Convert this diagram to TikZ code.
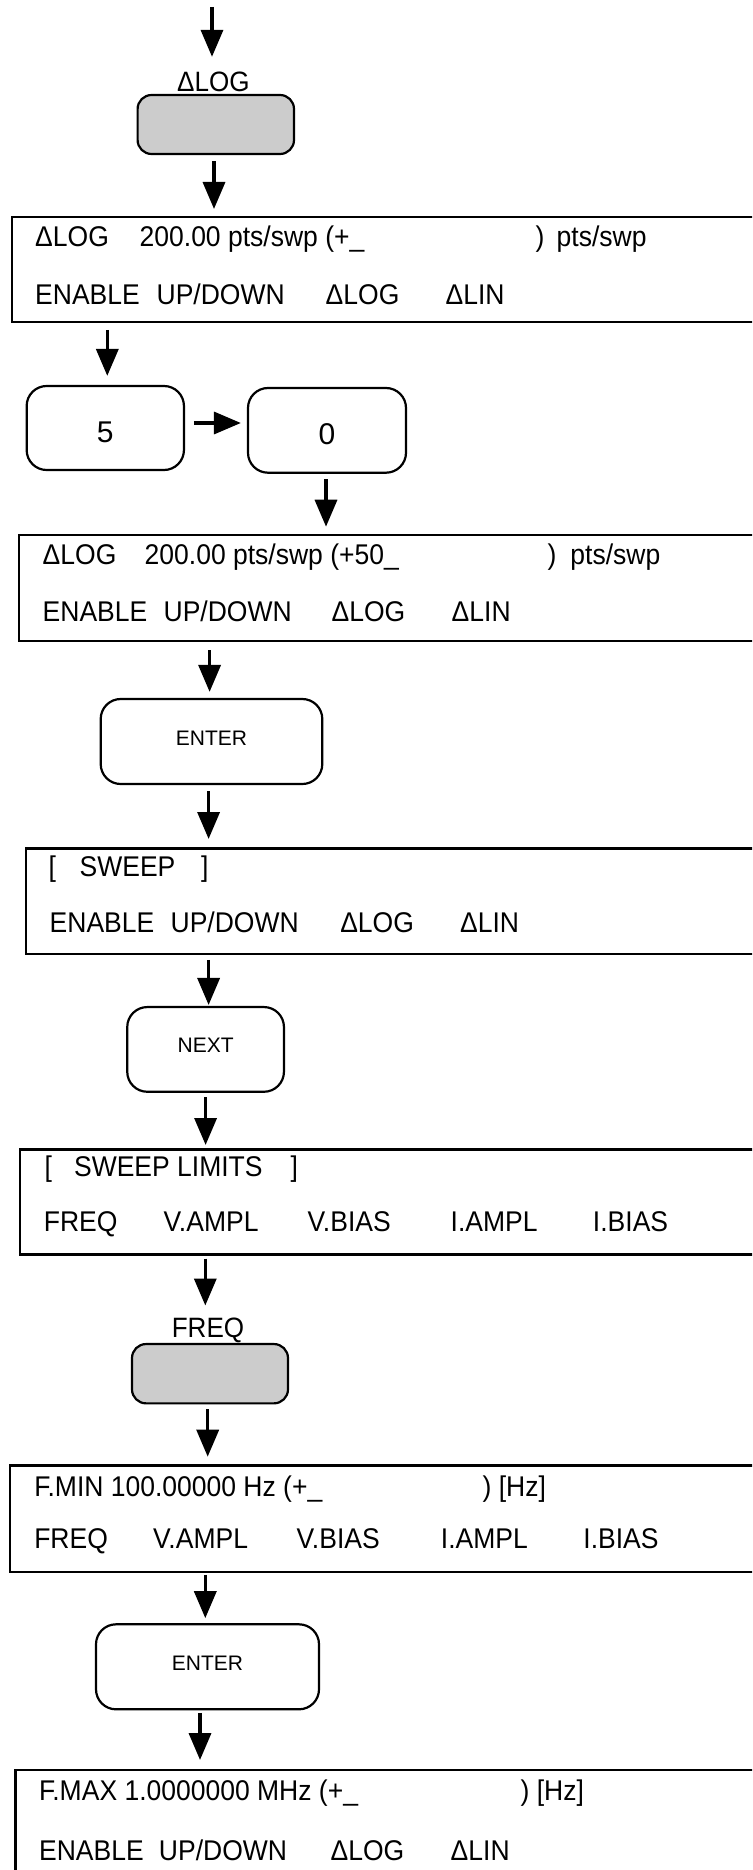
\documentclass[tikz,border=0pt]{standalone}
\usepackage{fontspec}
\setmainfont{Liberation Sans}
\newfontfamily\dispfont[FakeStretch=0.93]{Liberation Sans}
\usetikzlibrary{arrows.meta}
\newcommand{\putat}[2]{\rlap{\hspace*{#1pt}#2}}
\begin{document}
\begin{tikzpicture}[x=1pt,y=-1pt,
  disp/.style={draw, line width=2.2pt, rectangle, anchor=north west, inner sep=0pt, minimum width=820pt},
  btn/.style={draw, line width=2.2pt, rounded corners=20pt, inner sep=0pt, fill=white,
    font=\fontsize{21}{24}\selectfont, text height=15pt, text depth=8pt},
  digit/.style={btn, font=\fontsize{30}{32}\selectfont, text height=29pt, text depth=0pt},
  gbtn/.style={draw, line width=2.2pt, rounded corners=14pt, inner sep=0pt, fill=gray!40},
  lbl/.style={anchor=base, inner sep=0pt, font=\dispfont\fontsize{28}{30}\selectfont, text height=19pt},
  txt/.style={anchor=base west, inner sep=0pt, font=\dispfont\fontsize{28.5}{30}\selectfont},
  arr/.style={line width=3.5pt, -{Triangle[length=27pt,width=22pt]}}
]
\useasboundingbox (0,0) rectangle (752,1870);
\clip (0,0) rectangle (752,1870);

% ---- nodes ----
\coordinate (top) at (212,7);
\node[lbl] (lab1) at (213.4,92) {ΔLOG};
\node[gbtn, minimum width=156.4pt, minimum height=59pt] (g1) at (215.8,124.5) {};

\node[disp, minimum height=104.7pt] (b1) at (10.5,216) {};
\node[txt] (b1l1) at (0,246.7) {\putat{34.5}{ΔLOG}\putat{139}{200.00 pts/swp (+\_}\putat{535}{)}\putat{556}{pts/swp}};
\node[txt] (b1l2) at (0,304) {\putat{34.5}{ENABLE}\putat{156}{UP/DOWN}\putat{325}{ΔLOG}\putat{445}{ΔLIN}};

\node[digit, minimum width=157.3pt, minimum height=84pt] (k5) at (105.3,428) {5};
\node[digit, minimum width=158pt, minimum height=84.7pt] (k0) at (327,430.35) {0};

\node[disp, minimum height=106pt] (b2) at (17.7,534) {};
\node[txt] (b2l1) at (0,564) {\putat{42}{ΔLOG}\putat{144}{200.00 pts/swp (+50\_}\putat{547}{)}\putat{569.8}{pts/swp}};
\node[txt] (b2l2) at (0,621.7) {\putat{42}{ENABLE}\putat{163}{UP/DOWN}\putat{331}{ΔLOG}\putat{451}{ΔLIN}};

\node[btn, minimum width=221.6pt, minimum height=85pt] (e1) at (211.5,741.5) {ENTER};

\node[disp, minimum height=105.4pt] (b3) at (25,847.3) {};
\node[txt] (b3l1) at (0,876.7) {\putat{48}{[}\putat{79}{SWEEP}\putat{200.5}{]}};
\node[txt] (b3l2) at (0,932.7) {\putat{49}{ENABLE}\putat{170}{UP/DOWN}\putat{339.6}{ΔLOG}\putat{459.5}{ΔLIN}};

\node[btn, minimum width=156.7pt, minimum height=84.7pt] (nx) at (205.6,1049.4) {NEXT};

\node[disp, minimum height=105pt] (b4) at (19.2,1148.3) {};
\node[txt] (b4l1) at (0,1176.7) {\putat{44}{[}\putat{73.4}{SWEEP LIMITS}\putat{290}{]}};
\node[txt] (b4l2) at (0,1231.7) {\putat{43.2}{FREQ}\putat{163}{V.AMPL}\putat{307}{V.BIAS}\putat{450}{I.AMPL}\putat{592.3}{I.BIAS}};

\node[lbl] (lab2) at (208,1337.7) {FREQ};
\node[gbtn, minimum width=156pt, minimum height=59.3pt] (g2) at (210,1373.7) {};

\node[disp, minimum height=106.4pt] (b5) at (8.6,1464.3) {};
\node[txt] (b5l1) at (0,1496.7) {\putat{33.6}{F.MIN 100.00000 Hz (+\_}\putat{482}{) [Hz]}};
\node[txt] (b5l2) at (0,1548.3) {\putat{33.6}{FREQ}\putat{152.5}{V.AMPL}\putat{296}{V.BIAS}\putat{440.3}{I.AMPL}\putat{582.7}{I.BIAS}};

\node[btn, minimum width=223pt, minimum height=85pt] (e2) at (207.5,1666.8) {ENTER};

\node[disp, minimum height=140pt] (b6) at (14.4,1769) {};
\node[txt] (b6l1) at (0,1800) {\putat{38.4}{F.MAX 1.0000000 MHz (+\_}\putat{520}{) [Hz]}};
\node[txt] (b6l2) at (0,1860) {\putat{38.4}{ENABLE}\putat{158.3}{UP/DOWN}\putat{330}{ΔLOG}\putat{450}{ΔLIN}};

% ---- connectors ----
\draw[arr, shorten >=16pt] (top) -- (top |- lab1.north);
\draw[arr, shorten <=6pt, shorten >=7pt] ([xshift=-1.8pt]g1.south) -- ([xshift=-1.8pt]g1.south |- b1.north);
\draw[arr, shorten <=7pt, shorten >=9pt] ([xshift=2pt]k5.north |- b1.south) -- ([xshift=2pt]k5.north);
\draw[arr, shorten <=8.7pt, shorten >=6pt] ([yshift=5pt]k5.east) -- ([yshift=5pt]k5.east -| k0.west);
\draw[arr, shorten <=5.3pt, shorten >=7.3pt] ([xshift=-1pt]k0.south) -- ([xshift=-1pt]k0.south |- b2.north);
\draw[arr, shorten <=8pt, shorten >=6pt] ([xshift=-1.9pt]e1.north |- b2.south) -- ([xshift=-1.9pt]e1.north);
\draw[arr, shorten <=6pt, shorten >=8.3pt] ([xshift=-2.9pt]e1.south) -- ([xshift=-2.9pt]e1.south |- b3.north);
\draw[arr, shorten <=5pt, shorten >=1pt] ([xshift=3pt]nx.north |- b3.south) -- ([xshift=3pt]nx.north);
\draw[arr, shorten <=4.3pt, shorten >=3.3pt] (nx.south) -- (nx.south |- b4.north);
\draw[arr, shorten <=3pt, shorten >=13pt] ([xshift=-2.7pt]lab2.north |- b4.south) -- ([xshift=-2.7pt]lab2.north);
\draw[arr, shorten <=5pt, shorten >=7.6pt] ([xshift=-2.3pt]g2.south) -- ([xshift=-2.3pt]g2.south |- b5.north);
\draw[arr, shorten <=2pt, shorten >=5pt] ([xshift=-2.2pt]e2.north |- b5.south) -- ([xshift=-2.2pt]e2.north);
\draw[arr, shorten <=2.4pt, shorten >=9pt] ([xshift=-7.5pt]e2.south) -- ([xshift=-7.5pt]e2.south |- b6.north);
\end{tikzpicture}
\end{document}
